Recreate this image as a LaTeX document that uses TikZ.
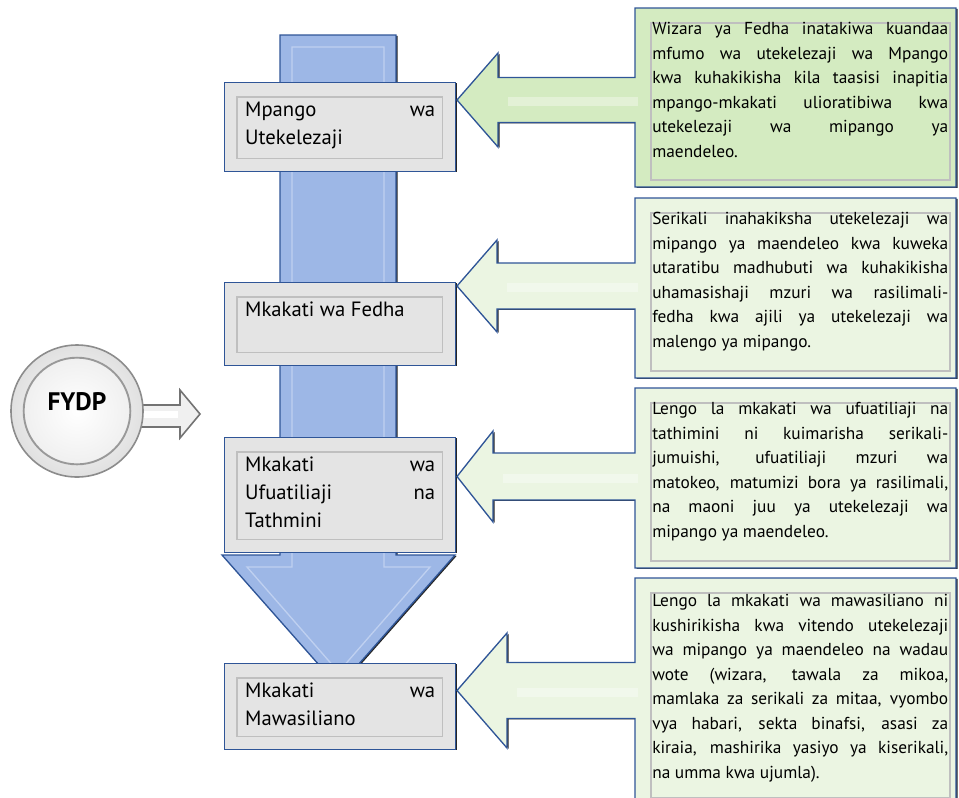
\documentclass[tikz,border=0pt]{standalone}
\usepackage{fontspec}
\setmainfont{PT Sans}
\usetikzlibrary{positioning, calc, shadows}

\definecolor{bluefill}{HTML}{9DB7E6}
\definecolor{blueedge}{HTML}{2F5597}
\definecolor{bluelite}{HTML}{BFD0F0}
\definecolor{stagegray}{HTML}{E4E4E4}
\definecolor{greenA}{HTML}{D4EBC1}
\definecolor{greenB}{HTML}{EBF5E2}

% label of a stage box, fixed height, text at the top
\newcommand{\stagelbl}[2]{\parbox[c][#1][t]{142.5pt}{\tolerance=10000\relax\hbadness=10000\relax #2}}
\newcommand{\notefont}{\fontsize{13}{18.4}\selectfont
  \tolerance=10000\relax \hbadness=10000\relax
  \hyphenpenalty=10000\relax \exhyphenpenalty=10000\relax}

\begin{document}
\begin{tikzpicture}[
    x=0.75pt, y=-0.75pt,
    darkedge/.style={drop shadow={shadow xshift=1.3pt, shadow yshift=-0.6pt, fill=black!85, opacity=1}},
    stage/.style={draw=blueedge, line width=1pt, fill=stagegray, anchor=north west,
                  minimum width=173.25pt, inner xsep=15.4pt, inner ysep=14.25pt,
                  font=\fontsize{15.5}{21}\selectfont, darkedge},
    note/.style={anchor=north west, inner sep=0pt, text width=222pt, align=justify,
                 font=\notefont},
    callout/.style={draw=blueedge, line width=1pt, line join=miter, darkedge},
    bevel/.style={draw=black!25, line width=0.8pt},
  ]
  \useasboundingbox (0,0) rectangle (959,797);
  \clip (0,0) rectangle (959,797);

  % big downward arrow behind the stages
  \draw[fill=bluefill, draw=blueedge, line width=1pt, darkedge]
    (280,35) -- (396,35) -- (396,555) -- (455,555) -- (338.5,687)
    -- (222,555) -- (280,555) -- cycle;
  \draw[bluelite, line width=1pt]
    (292,47) -- (384,47) -- (384,567) -- (430,567) -- (338.5,672)
    -- (247,567) -- (292,567) -- cycle;

  % stages
  \node[stage] (stage1) at (224,82)  {\stagelbl{38.25pt}{Mpango wa\linebreak Utekelezaji}};
  \node[stage] (stage2) at (224,282) {\stagelbl{33.75pt}{Mkakati wa Fedha}};
  \node[stage] (stage3) at (224,437) {\stagelbl{57.75pt}{Mkakati wa\linebreak Ufuatiliaji na\linebreak Tathmini}};
  \node[stage] (stage4) at (224,663) {\stagelbl{36pt}{Mkakati wa\linebreak Mawasiliano}};
  \foreach \i in {1,...,4}
    \draw[bevel] ($(stage\i.north west)+(13,15)$) rectangle ($(stage\i.south east)+(-14,-14)$);

  % callouts pointing at the stages
  \foreach \n/\top/\bot/\ay/\hh/\sh/\hb/\col in {
      1/8/187/100/47/22.5/498/greenA,
      2/198/378/286/46/23/497/greenB,
      3/388/568/476.5/45.5/23.5/493/greenB,
      4/578/805/690.5/57.5/28/507/greenB}{
    \draw[callout, fill=\col] (956,\top) -- (635,\top) -- (635,\ay-\sh) -- (\hb,\ay-\sh)
      -- (\hb,\ay-\hh) -- (457,\ay) -- (\hb,\ay+\hh) -- (\hb,\ay+\sh) -- (635,\ay+\sh)
      -- (635,\bot) -- (956,\bot) -- cycle;
    \draw[bevel] (651,\top+15) rectangle (950,\bot-7);
    \fill[white, opacity=.35] (\hb+10,\ay-3) rectangle (638,\ay+6);
  }

  \node[note] (note1) at (652,22) {Wizara ya Fedha inatakiwa kuandaa\linebreak
    mfumo wa utekelezaji wa Mpango\linebreak
    kwa kuhakikisha kila taasisi inapitia\linebreak
    mpango-mkakati ulioratibiwa kwa\linebreak
    utekelezaji wa mipango ya\linebreak
    maendeleo.};
  \node[note] (note2) at (652,212) {Serikali inahakiksha utekelezaji wa\linebreak
    mipango ya maendeleo kwa kuweka\linebreak
    utaratibu madhubuti wa kuhakikisha\linebreak
    uhamasishaji mzuri wa rasilimali-\linebreak
    fedha kwa ajili ya utekelezaji wa\linebreak
    malengo ya mipango.};
  \node[note] (note3) at (652,402) {Lengo la mkakati wa ufuatiliaji na\linebreak
    tathimini ni kuimarisha serikali-\linebreak
    jumuishi, ufuatiliaji mzuri wa\linebreak
    matokeo, matumizi bora ya rasilimali,\linebreak
    na maoni juu ya utekelezaji wa\linebreak
    mipango ya maendeleo.};
  \node[note] (note4) at (652,594) {Lengo la mkakati wa mawasiliano ni\linebreak
    kushirikisha kwa vitendo utekelezaji\linebreak
    wa mipango ya maendeleo na wadau\linebreak
    wote (wizara, tawala za mikoa,\linebreak
    mamlaka za serikali za mitaa, vyombo\linebreak
    vya habari, sekta binafsi, asasi za\linebreak
    kiraia, mashirika yasiyo ya kiserikali,\linebreak
    na umma kwa ujumla).};

  % FYDP circle with its small arrow
  \draw[fill=black!6, draw=black!55, line width=1.2pt]
    (120,405) -- (180,405) -- (180,390) -- (200,414) -- (180,438) -- (180,427) -- (120,427) -- cycle;
  \fill[white] (125,411) rectangle (178,418);
  \node[circle, minimum size=99pt, inner sep=0pt, draw=black!45, line width=1.2pt,
        inner color=white, outer color=black!12] (fydp) at (77,411) {};
  \draw[draw=black!40, line width=1.4pt, inner color=white, outer color=black!6]
    (fydp.center) circle[radius=40pt];
  \node[font=\fontsize{19}{22}\selectfont\bfseries] (fydplbl) at ($(fydp.center)+(0,-9)$) {FYDP};
\end{tikzpicture}
\end{document}
